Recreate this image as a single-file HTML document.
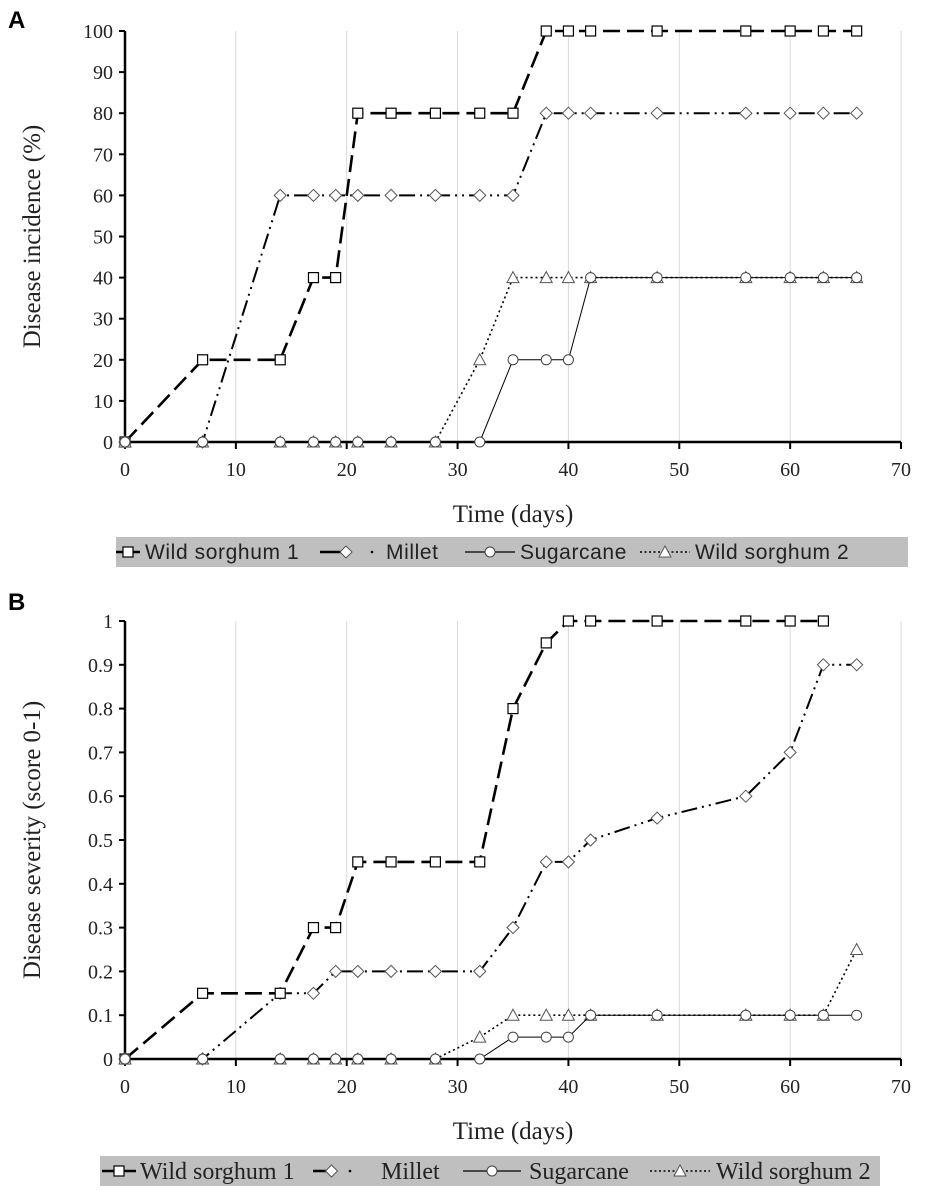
<!DOCTYPE html>
<html><head><meta charset="utf-8"><style>
body{margin:0;background:#fff;width:950px;height:1190px;overflow:hidden}
svg{display:block}
</style></head><body>
<svg id="c" width="950" height="1190" xmlns="http://www.w3.org/2000/svg"></svg>
<script>
const days=[0,7,14,17,19,21,24,28,32,35,38,40,42,48,56,60,63,66];
const aWS1=[0,20,20,40,40,80,80,80,80,80,100,100,100,100,100,100,100,100];
const aMillet=[0,0,60,60,60,60,60,60,60,60,80,80,80,80,80,80,80,80];
const aSugar=[0,0,0,0,0,0,0,0,0,20,20,20,40,40,40,40,40,40];
const aWS2=[0,0,0,0,0,0,0,0,20,40,40,40,40,40,40,40,40,40];
const bWS1=[0,0.15,0.15,0.3,0.3,0.45,0.45,0.45,0.45,0.8,0.95,1,1,1,1,1,1,null];
const bMillet=[0,0,0.15,0.15,0.2,0.2,0.2,0.2,0.2,0.3,0.45,0.45,0.5,0.55,0.6,0.7,0.9,0.9];
const bSugar=[0,0,0,0,0,0,0,0,0,0.05,0.05,0.05,0.1,0.1,0.1,0.1,0.1,0.1];
const bWS2=[0,0,0,0,0,0,0,0,0.05,0.1,0.1,0.1,0.1,0.1,0.1,0.1,0.1,0.25];
const xTicks=[0,10,20,30,40,50,60,70];
const aTicks=[0,10,20,30,40,50,60,70,80,90,100];
const bTicks=[0,0.1,0.2,0.3,0.4,0.5,0.6,0.7,0.8,0.9,1];
const names=["Wild sorghum 1","Millet","Sugarcane","Wild sorghum 2"];

const NS="http://www.w3.org/2000/svg",svg=document.getElementById('c');
function mk(t,a,p){const e=document.createElementNS(NS,t);for(const k in a)e.setAttribute(k,a[k]);(p||svg).appendChild(e);return e;}
const styles=[
 {w:2.6,d:"17 7",m:"sq"},
 {w:2,d:"16 5 2 5 2 5",m:"di"},
 {w:1,d:"",m:"ci"},
 {w:1.6,d:"2 3",m:"tr"}];
function marker(g,t,x,y){
 if(t=="sq")mk('rect',{x:x-5,y:y-5,width:10,height:10,fill:'#fff',stroke:'#000','stroke-width':1.2},g);
 else if(t=="di")mk('polygon',{points:`${x},${y-6} ${x+6},${y} ${x},${y+6} ${x-6},${y}`,fill:'#fff',stroke:'#555','stroke-width':1},g);
 else if(t=="ci")mk('circle',{cx:x,cy:y,r:5,fill:'#fff',stroke:'#444','stroke-width':1},g);
 else mk('polygon',{points:`${x},${y-6} ${x+6},${y+5} ${x-6},${y+5}`,fill:'#fff',stroke:'#555','stroke-width':1},g);
}
function legendSample(g,i,x1,x2,cy){
 const mx=(x1+x2)/2;
 if(i==0){mk('line',{x1:x1,x2:x2,y1:cy,y2:cy,stroke:'#000','stroke-width':2.6},g);}
 else if(i==1){mk('line',{x1:x1,x2:mx,y1:cy,y2:cy,stroke:'#000','stroke-width':2.6},g);
  mk('circle',{cx:x2,cy:cy,r:1.3,fill:'#000'},g);}
 else if(i==2){mk('line',{x1:x1,x2:x2,y1:cy,y2:cy,stroke:'#000','stroke-width':1.2},g);}
 else {mk('line',{x1:x1,x2:x2,y1:cy,y2:cy,stroke:'#000','stroke-width':1.4,'stroke-dasharray':'2 2.5'},g);}
 marker(g,styles[i].m,mx,cy);
}
function chart(id,y0,y1,ymax,ticks,series,ylabel,fmt,legY,legSerif,letter,letY){
 const X=v=>125+v*(776/70), Y=v=>y0-(v/ymax)*(y0-y1);
 const g=mk('g',{});
 const L=mk('text',{x:8,y:letY,'font-family':'Liberation Sans, sans-serif','font-size':24,'font-weight':'bold'},g);L.textContent=letter;
 
 xTicks.forEach(t=>{if(t>0)mk('line',{x1:X(t),x2:X(t),y1:y1,y2:y0,stroke:'#d9d9d9','stroke-width':1},g);});
 mk('line',{x1:X(0),x2:X(0),y1:y1,y2:y0,stroke:'#000','stroke-width':2.5},g);
 mk('line',{x1:X(0),x2:X(70),y1:y0,y2:y0,stroke:'#000','stroke-width':2.5},g);
 ticks.forEach(t=>{mk('line',{x1:X(0)-6,x2:X(0),y1:Y(t),y2:Y(t),stroke:'#000','stroke-width':2},g);
  const tx=mk('text',{x:X(0)-12,y:Y(t)+7,'text-anchor':'end','font-family':'Liberation Serif, serif','font-size':20,fill:'#222'},g);tx.textContent=fmt(t);
  });
 xTicks.forEach(t=>{mk('line',{x1:X(t),x2:X(t),y1:y0,y2:y0+7,stroke:'#000','stroke-width':2},g);
  const tx=mk('text',{x:X(t),y:y0+34,'text-anchor':'middle','font-family':'Liberation Serif, serif','font-size':20,fill:'#222'},g);tx.textContent=t;
  });
 const xt=mk('text',{x:513,y:y0+80,'text-anchor':'middle','font-family':'Liberation Serif, serif','font-size':25,fill:'#222'},g);xt.textContent="Time (days)";
 
 const yt=mk('text',{x:0,y:0,'text-anchor':'middle','font-family':'Liberation Serif, serif','font-size':25,fill:'#222',transform:`translate(40,${(y0+y1)/2}) rotate(-90)`},g);yt.textContent=ylabel;
 
 [1,0,3,2].forEach(i=>{const s=series[i],st=styles[i];
  const sg=mk('g',{},g);
  const pts=[];days.forEach((d,j)=>{if(s[j]!=null)pts.push([X(d),Y(s[j])]);});
  mk('polyline',{points:pts.map(p=>p.join(',')).join(' '),fill:'none',stroke:'#000','stroke-width':st.w,'stroke-dasharray':st.d},sg);
  pts.forEach(p=>marker(sg,st.m,p[0],p[1]));});
 const lg=mk('g',{},g);
 const lx=legSerif?100:116,lw=legSerif?780:792;
 mk('rect',{x:lx,y:legY,width:lw,height:30,fill:'#bfbfbf'},lg);
 const lay=legSerif?[[102,136,140],[313,350,381],[463,521,529],[650,710,716]]
                   :[[116,140,145],[320,372,386],[465,515,520],[640,690,695]];
 const fam=legSerif?'Liberation Serif, serif':'Liberation Sans, sans-serif';
 names.forEach((n,i)=>{const L=lay[i],cy=legY+15;
  const e=mk('g',{},lg);
  legendSample(e,i,L[0],L[1],cy);
  const t=mk('text',{x:L[2],y:cy+(legSerif?8:7),'font-family':fam,'font-size':legSerif?24:21,'letter-spacing':legSerif?0:0.6,fill:'#222'},e);t.textContent=n;});
}
chart('chart-a-incidence',442,31,100,aTicks,[aWS1,aMillet,aSugar,aWS2],'Disease  incidence (%)',t=>t,537,false,'A',28);
chart('chart-b-severity',1059,621,1,bTicks,[bWS1,bMillet,bSugar,bWS2],'Disease severity (score 0-1)',t=>String(t),1156,true,'B',610);
</script>
</body></html>
